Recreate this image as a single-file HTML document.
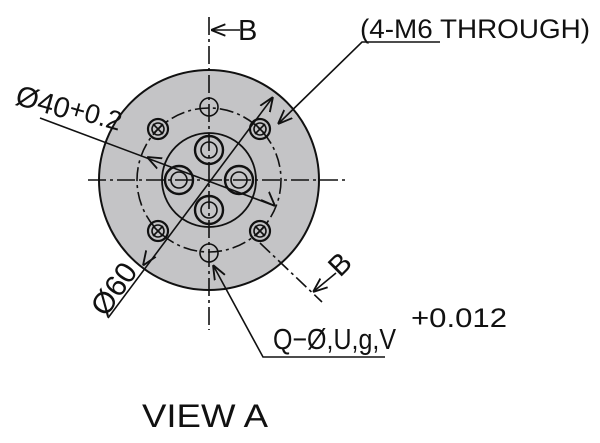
<!DOCTYPE html>
<html><head><style>body{margin:0;background:#fff}svg{display:block}text{font-family:"Liberation Sans",sans-serif;fill:#111}</style></head>
<body>
<svg width="600" height="443" viewBox="0 0 600 443">
<defs><marker id="a" viewBox="0 0 10 10" refX="10" refY="5" markerWidth="9" markerHeight="9" orient="auto-start-reverse"><path d="M0,1 L10,5 L0,9" fill="none" stroke="#111" stroke-width="1.3"/></marker></defs>
<g stroke="#111" fill="none" stroke-width="1.6">
<circle cx="209" cy="180" r="110" fill="#c4c4c6" stroke-width="2"/>
<circle cx="209" cy="180" r="47" stroke-width="1.8"/>
<circle cx="209" cy="180" r="72" stroke-dasharray="14,4,3,4"/>
<line x1="88" y1="180" x2="348" y2="180" stroke-dasharray="18,4,3,4"/>
<line x1="209" y1="17" x2="209" y2="330" stroke-dasharray="18,4,3,4"/>
<circle cx="209" cy="107" r="9"/><circle cx="209" cy="253" r="9"/>
<g stroke-width="2.2">
<circle cx="158" cy="129" r="10"/><circle cx="260" cy="129" r="10"/><circle cx="158" cy="231" r="10"/><circle cx="260" cy="231" r="10"/></g>
<circle cx="158" cy="129" r="6"/><circle cx="260" cy="129" r="6"/><circle cx="158" cy="231" r="6"/><circle cx="260" cy="231" r="6"/>
<path d="M153,124l10,10M163,124l-10,10M255,124l10,10M265,124l-10,10M153,226l10,10M163,226l-10,10M255,226l10,10M265,226l-10,10"/>
<g stroke-width="2.4">
<circle cx="209" cy="150" r="14"/><circle cx="209" cy="210" r="14"/><circle cx="179" cy="180" r="14"/><circle cx="239" cy="180" r="14"/></g>
<circle cx="209" cy="150" r="8"/><circle cx="209" cy="210" r="8"/><circle cx="179" cy="180" r="8"/><circle cx="239" cy="180" r="8"/>
<line x1="40" y1="118" x2="275" y2="206" />
<line x1="147" y1="157" x2="148" y2="157.5" marker-start="url(#a)"/>
<line x1="274" y1="205" x2="275" y2="206" marker-end="url(#a)"/>
<line x1="108" y1="318" x2="273" y2="97"/>
<line x1="144" y1="264" x2="143" y2="265.5" marker-end="url(#a)"/>
<line x1="272" y1="98.5" x2="273" y2="97" marker-end="url(#a)"/>
<polyline points="440,42 362,42 278,124" marker-end="url(#a)"/>
<line x1="240" y1="30" x2="211" y2="30" marker-end="url(#a)"/>
<line x1="260" y1="243" x2="322" y2="302" stroke-dasharray="14,4,3,4"/>
<line x1="336" y1="273" x2="313" y2="292" marker-end="url(#a)"/>
<polyline points="385,357 263,357 213,265" marker-end="url(#a)"/>
</g>
<text x="238" y="40" font-size="29">B</text>
<text x="360" y="38" font-size="27" textLength="230" lengthAdjust="spacingAndGlyphs">(4-M6 THROUGH)</text>
<text x="0" y="0" font-size="29" transform="translate(14,104) rotate(16)">Ø40<tspan font-size="27" dy="-3">+0.2</tspan></text>
<text x="0" y="0" font-size="30" transform="translate(106,318) rotate(-55)">Ø60</text>
<text x="0" y="0" font-size="29" transform="translate(340,278) rotate(-45)">B</text>
<text x="273" y="349" font-size="29" textLength="123" lengthAdjust="spacingAndGlyphs">Q−Ø,U,g,V</text>
<text x="411" y="327" font-size="27" textLength="96" lengthAdjust="spacingAndGlyphs">+0.012</text>
<text x="142" y="427" font-size="32" textLength="126" lengthAdjust="spacingAndGlyphs">VIEW A</text>
</svg>
</body></html>
